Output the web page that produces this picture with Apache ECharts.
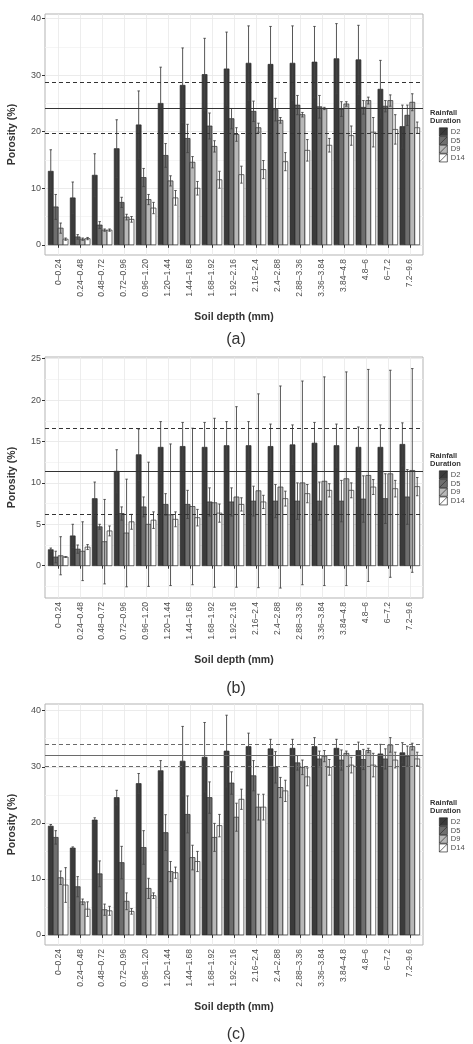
<!DOCTYPE html>
<html>
<head>
<meta charset="utf-8">
<script src="https://cdn.jsdelivr.net/npm/echarts@6.0.0/dist/echarts.min.js"></script>
<style>
  html, body { margin: 0; padding: 0; background: #fff; }
  #chart { width: 473px; height: 1044px; }
</style>
</head>
<body>
<div id="chart"></div>
<script>
// soil depth classes (mm)
var depthLabels = ['0–0.24', '0.24–0.48', '0.48–0.72', '0.72–0.96', '0.96–1.20', '1.20–1.44',
  '1.44–1.68', '1.68–1.92', '1.92–2.16', '2.16–2.4', '2.4–2.88', '2.88–3.36', '3.36–3.84',
  '3.84–4.8', '4.8–6', '6–7.2', '7.2–9.6'];
var durations = ['D2', 'D5', 'D9', 'D14'];

// panel (a)
var aD2 = [13.0, 8.3, 12.3, 17.0, 21.2, 25.0, 28.2, 30.1, 31.1, 32.1, 31.9, 32.1, 32.3, 32.9, 32.7, 27.5, 20.9];
var aD2sd = [3.8, 2.8, 3.8, 5.1, 6.0, 6.4, 6.6, 6.4, 6.5, 6.6, 6.7, 6.6, 6.3, 6.2, 6.1, 5.1, 3.8];
var aD5 = [6.7, 1.4, 3.5, 7.5, 11.9, 15.8, 18.8, 21.0, 22.3, 23.6, 23.9, 24.7, 24.4, 24.0, 24.3, 24.5, 22.9];
var aD5sd = [2.2, 0.4, 0.6, 0.9, 1.6, 2.1, 2.5, 2.3, 1.8, 1.8, 2.0, 1.7, 2.0, 1.3, 1.2, 1.0, 1.8];
var aD9 = [2.95, 1.0, 2.6, 4.9, 8.0, 11.3, 14.6, 17.4, 19.5, 20.7, 22.0, 23.0, 24.1, 24.9, 25.5, 25.5, 25.2];
var aD9sd = [0.9, 0.2, 0.2, 0.5, 0.9, 0.9, 1.0, 1.0, 1.2, 0.8, 0.5, 0.4, 0.2, 0.4, 0.6, 1.0, 1.5];
var aD14 = [1.0, 1.1, 2.6, 4.5, 6.5, 8.3, 10.0, 11.5, 12.4, 13.3, 14.7, 16.7, 17.6, 19.3, 19.9, 20.4, 20.7];
var aD14sd = [0.2, 0.2, 0.2, 0.5, 1.0, 1.3, 1.2, 1.5, 1.5, 1.6, 1.6, 1.9, 1.2, 1.7, 2.6, 2.6, 1.0];
var aRefLines = [19.8, 24.2, 28.65];
var aTicks = [0, 10, 20, 30, 40];
var aMinor = [5, 15, 25, 35];

// panel (b)
var bD2 = [1.93, 3.6, 8.1, 11.4, 13.4, 14.3, 14.4, 14.3, 14.5, 14.5, 14.4, 14.6, 14.8, 14.5, 14.3, 14.3, 14.65];
var bD2sd = [0.2, 1.4, 2.0, 2.6, 3.1, 3.1, 2.9, 3.0, 2.9, 2.9, 2.7, 2.4, 2.5, 2.6, 2.45, 2.7, 2.6];
var bD5 = [1.05, 2.0, 4.7, 6.3, 7.1, 7.4, 7.4, 7.7, 7.7, 7.8, 7.8, 7.8, 7.8, 7.8, 8.05, 8.1, 8.3];
var bD5sd = [0.7, 0.5, 0.3, 0.8, 1.2, 1.3, 1.7, 1.7, 1.7, 1.8, 2.0, 2.2, 2.3, 2.5, 2.8, 3.0, 3.3];
var bD9 = [1.2, 1.75, 2.9, 3.95, 5.0, 6.15, 7.15, 7.6, 8.3, 9.05, 9.5, 10.0, 10.2, 10.5, 10.9, 11.1, 11.5];
var bD9sd = [2.3, 3.55, 5.1, 6.5, 7.5, 8.55, 9.45, 10.2, 10.9, 11.7, 12.2, 12.3, 12.6, 12.9, 12.8, 12.5, 12.3];
var bD14 = [1.05, 2.25, 4.2, 5.3, 5.5, 5.6, 5.8, 6.35, 7.4, 7.7, 8.1, 8.7, 9.1, 9.1, 9.5, 9.3, 9.55];
var bD14sd = [0.05, 0.3, 0.6, 0.9, 1.0, 0.9, 1.0, 1.1, 0.8, 0.8, 0.9, 1.1, 0.8, 0.9, 0.9, 1.0, 1.1];
var bRefLines = [6.25, 11.4, 16.55];
var bTicks = [0, 5, 10, 15, 20, 25];
var bMinor = [-2.5, 2.5, 7.5, 12.5, 17.5, 22.5];

// panel (c)
var cD2 = [19.4, 15.5, 20.5, 24.5, 27.0, 29.3, 31.0, 31.7, 32.8, 33.6, 33.2, 33.3, 33.6, 33.3, 32.9, 32.3, 32.5];
var cD2sd = [0.3, 0.2, 0.4, 1.3, 1.8, 1.8, 6.2, 6.2, 6.4, 2.4, 1.7, 1.6, 1.6, 1.6, 1.5, 1.7, 1.8];
var cD5 = [17.4, 8.6, 10.9, 12.9, 15.6, 18.25, 21.5, 24.5, 27.1, 28.4, 29.9, 30.7, 31.4, 31.2, 31.3, 31.4, 31.9];
var cD5sd = [1.2, 1.8, 2.3, 2.9, 3.0, 3.2, 3.3, 2.8, 2.0, 2.7, 2.8, 1.3, 1.4, 1.8, 1.8, 1.8, 1.8];
var cD9 = [10.2, 5.9, 4.5, 6.0, 8.3, 11.3, 13.8, 17.4, 21.0, 22.8, 26.3, 29.9, 31.9, 32.4, 32.9, 33.9, 33.6];
var cD9sd = [1.2, 0.5, 1.0, 1.5, 1.8, 1.8, 2.2, 2.5, 2.5, 2.3, 1.8, 1.3, 1.0, 0.4, 0.4, 1.3, 0.6];
var cD14 = [8.9, 4.6, 4.3, 4.2, 7.0, 11.1, 13.1, 19.5, 24.2, 22.8, 25.7, 28.2, 29.9, 30.3, 30.3, 31.2, 31.4];
var cD14sd = [3.1, 1.3, 0.8, 0.5, 0.5, 1.0, 1.8, 2.0, 1.8, 2.3, 1.9, 1.6, 1.4, 1.4, 2.1, 1.4, 1.2];
var cRefLines = [30.1, 32.1, 34.0];
var cTicks = [0, 10, 20, 30, 40];
var cMinor = [5, 15, 25, 35];

var FONT = '"Liberation Sans", Arial, sans-serif';
var fills = ['#3b3b3b', '#6e6e6e', '#b8b8b8', '#ffffff'];
var BAR_W = 0.225;               // dodge width 0.9 split in 4
var OFFSETS = [-0.3375, -0.1125, 0.1125, 0.3375];
var WHISK = 0.11;
var catIdx = depthLabels.map(function (d, i) { return i + 1; });

var panels = [
  { top: 14, min: -1.8, max: 40.8, ticks: aTicks, minor: aMinor, ref: aRefLines, refColor: '#333',
    vals: [aD2, aD5, aD9, aD14], sds: [aD2sd, aD5sd, aD9sd, aD14sd], tag: '(a)', tagY: 340 },
  { top: 357, min: -3.9, max: 25.2, ticks: bTicks, minor: bMinor, ref: bRefLines, refColor: '#333',
    vals: [bD2, bD5, bD9, bD14], sds: [bD2sd, bD5sd, bD9sd, bD14sd], tag: '(b)', tagY: 689 },
  { top: 704, min: -1.8, max: 41.2, ticks: cTicks, minor: cMinor, ref: cRefLines, refColor: '#6a6a6a',
    vals: [cD2, cD5, cD9, cD14], sds: [cD2sd, cD5sd, cD9sd, cD14sd], tag: '(c)', tagY: 1035 }
];

function rows(vals, sds) {
  return vals.map(function (v, i) { return [i + 1, v, sds[i]]; });
}

function barRender(off) {
  return function (params, api) {
    var x = api.value(0) + off;
    var p0 = api.coord([x - BAR_W / 2, api.value(1)]);
    var p1 = api.coord([x + BAR_W / 2, 0]);
    return {
      type: 'rect',
      shape: { x: p0[0], y: p0[1], width: p1[0] - p0[0], height: p1[1] - p0[1] },
      style: { fill: api.visual('color'), stroke: '#2a2a2a', lineWidth: 0.7 }
    };
  };
}

function errRender(off) {
  return function (params, api) {
    var x = api.value(0) + off, v = api.value(1), e = api.value(2);
    var hi = api.coord([x, v + e]);
    var lo = api.coord([x, v - e]);
    var hw = api.size([WHISK, 0])[0] / 2;
    var st = { stroke: '#444', lineWidth: 0.9 };
    return {
      type: 'group',
      children: [
        { type: 'line', shape: { x1: hi[0], y1: hi[1], x2: lo[0], y2: lo[1] }, style: st },
        { type: 'line', shape: { x1: hi[0] - hw, y1: hi[1], x2: hi[0] + hw, y2: hi[1] }, style: st },
        { type: 'line', shape: { x1: lo[0] - hw, y1: lo[1], x2: lo[0] + hw, y2: lo[1] }, style: st }
      ]
    };
  };
}

var grids = [], xAxes = [], yAxes = [], series = [], legends = [], graphics = [];

panels.forEach(function (p, i) {
  grids.push({
    left: 45, top: p.top, width: 378, height: 241,
    show: true, borderColor: '#b3b3b3', borderWidth: 1, backgroundColor: '#fff',
    outerBoundsMode: 'none'
  });
  xAxes.push({
    gridIndex: i, type: 'value', min: 0.4, max: 17.6,
    axisLine: { show: false },
    axisTick: { show: true, length: 3, customValues: catIdx, lineStyle: { color: '#333' } },
    axisLabel: {
      customValues: catIdx, rotate: 90, fontSize: 8.5, color: '#4d4d4d', margin: 4, fontFamily: FONT,
      formatter: function (v) { return depthLabels[Math.round(v) - 1] || ''; }
    },
    splitLine: { show: true, lineStyle: { color: '#e8e8e8', width: 0.8 } },
    name: 'Soil depth (mm)', nameLocation: 'middle', nameGap: 57,
    nameTextStyle: { fontWeight: 'bold', fontSize: 10.5, color: '#333', fontFamily: FONT }
  });
  yAxes.push({
    gridIndex: i, type: 'value', min: p.min, max: p.max,
    axisLine: { show: false },
    axisTick: { show: true, length: 3, customValues: p.ticks, lineStyle: { color: '#333' } },
    axisLabel: { customValues: p.ticks, fontSize: 9, color: '#4d4d4d', margin: 4, fontFamily: FONT },
    splitLine: { show: true, lineStyle: { color: '#e6e6e6', width: 0.8 } },
    name: 'Porosity (%)', nameLocation: 'middle', nameGap: 27,
    nameTextStyle: { fontWeight: 'bold', fontSize: 10.5, color: '#333', fontFamily: FONT }
  });
  // minor grid lines
  yAxes.push({
    gridIndex: i, type: 'value', min: p.min, max: p.max, position: 'left',
    axisLine: { show: false },
    axisTick: { show: false, customValues: p.minor },
    axisLabel: { show: false, customValues: p.minor },
    splitLine: { show: true, lineStyle: { color: '#f3f3f3', width: 0.8 } }
  });
  var yIdx = i * 2;
  durations.forEach(function (d, k) {
    series.push({
      type: 'custom', name: d, xAxisIndex: i, yAxisIndex: yIdx,
      itemStyle: { color: fills[k], borderColor: '#2a2a2a', borderWidth: 0.7 },
      renderItem: barRender(OFFSETS[k]),
      encode: { x: 0, y: 1 },
      data: rows(p.vals[k], p.sds[k]), z: 2
    });
  });
  durations.forEach(function (d, k) {
    series.push({
      type: 'custom', name: d + ' sd', xAxisIndex: i, yAxisIndex: yIdx,
      renderItem: errRender(OFFSETS[k]),
      encode: { x: 0, y: 1 },
      data: rows(p.vals[k], p.sds[k]), z: 3
    });
  });
  series.push({
    type: 'line', xAxisIndex: i, yAxisIndex: yIdx, data: [], z: 4,
    markLine: {
      silent: true, symbol: 'none', label: { show: false },
      lineStyle: { color: p.refColor, width: 1, type: 'solid' },
      data: [
        { yAxis: p.ref[0], lineStyle: { type: [4, 3] } },
        { yAxis: p.ref[1], lineStyle: { type: 'solid' } },
        { yAxis: p.ref[2], lineStyle: { type: [4, 3] } }
      ]
    }
  });
  var mid = p.top + 120.5;
  legends.push({
    data: durations, orient: 'vertical', left: 439, top: mid - 7, padding: 0,
    itemWidth: 9, itemHeight: 8, itemGap: 0,
    icon: 'path://M0,0L10,0L10,10L0,10Z M0,10L10,0',
    itemStyle: { borderColor: '#2a2a2a', borderWidth: 0.7 },
    textStyle: { fontSize: 7.5, color: '#4d4d4d', fontFamily: FONT, padding: [0, 0, 0, -2], lineHeight: 8 },
    selectedMode: false
  });
  graphics.push({
    type: 'text', left: 430, top: mid - 26,
    style: { text: 'Rainfall\nDuration', font: 'bold 7.5px ' + FONT, fill: '#333', lineHeight: 8 }
  });
  graphics.push({
    type: 'text', x: 236, y: p.tagY,
    style: { text: p.tag, font: '16px ' + FONT, fill: '#333', textAlign: 'center', textVerticalAlign: 'middle' }
  });
});

var chart = echarts.init(document.getElementById('chart'), null, { renderer: 'canvas' });
chart.setOption({
  animation: false,
  backgroundColor: '#fff',
  grid: grids,
  xAxis: xAxes,
  yAxis: yAxes,
  legend: legends,
  graphic: graphics,
  series: series
});
</script>
</body>
</html>
